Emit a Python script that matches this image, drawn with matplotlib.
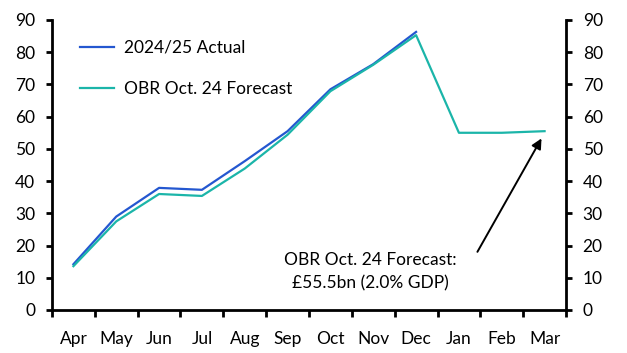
import matplotlib
matplotlib.use("Agg")
import matplotlib.pyplot as plt
import numpy as np

months = ["Apr", "May", "Jun", "Jul", "Aug", "Sep", "Oct", "Nov", "Dec", "Jan", "Feb", "Mar"]
actual = [14.2, 29.0, 37.9, 37.3, 46.2, 55.5, 68.5, 76.3, 86.3]
forecast = [13.6, 27.5, 36.0, 35.4, 43.9, 54.4, 67.9, 76.1, 85.3, 55.0, 55.0, 55.5]
yticks = [0, 10, 20, 30, 40, 50, 60, 70, 80, 90]

plt.rcParams['font.family'] = ['Lato', 'DejaVu Sans']
fig = plt.figure(figsize=(6.27, 3.53), dpi=100)
ax = fig.add_axes([52/627, 1-310/353, 514/627, 290/353])

x = np.arange(len(months))
ax.plot(x[:len(actual)], actual, color="#2457d0", lw=1.6, label="2024/25 Actual")
ax.plot(x, forecast, color="#1bb5a9", lw=1.6, label="OBR Oct. 24 Forecast")

ax.set_xlim(-0.5, len(months) - 0.5)
ax.set_ylim(0, 90)
ax.set_yticks(yticks)
ax.set_xticks(np.arange(-0.5, len(months), 1.0))
ax.set_xticklabels([])
ax.set_xticks(x, minor=True)
ax.set_xticklabels(months, minor=True)
ax.tick_params(axis='x', which='minor', length=0, pad=15, labelsize=12.5)
ax.tick_params(axis='x', which='major', length=5, width=2, direction='out')
ax.tick_params(axis='y', length=4, width=2, direction='out', labelsize=12.5, pad=8,
               left=True, right=True, labelleft=True, labelright=True)
for s in ['left', 'right', 'bottom']:
    ax.spines[s].set_linewidth(2)
ax.spines['top'].set_visible(False)

leg = ax.legend(loc='upper left', frameon=False, fontsize=12.5, handlelength=1.95,
                labelspacing=1.45, bbox_to_anchor=(0.041, 0.955), borderaxespad=0, handletextpad=0.57)

ax.annotate("", xy=(10.96, 54.0), xytext=(9.4, 17.3),
            arrowprops=dict(arrowstyle="-|>,head_length=0.6,head_width=0.3", color="black", lw=1.4))
ax.text(6.93, 11.9, "OBR Oct. 24 Forecast:\n£55.5bn (2.0% GDP)", ha='center', va='center',
        fontsize=12.5, linespacing=1.55)

fig.savefig("out.png", dpi=100)
